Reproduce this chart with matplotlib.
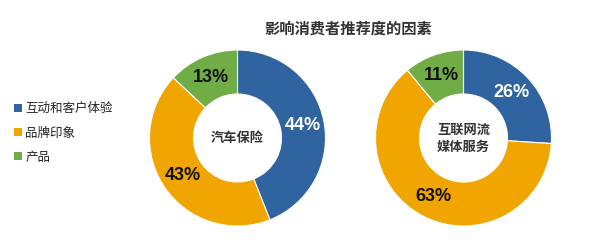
import matplotlib
matplotlib.use("Agg")
import matplotlib.pyplot as plt
from matplotlib.patches import Patch

plt.rcParams['font.family'] = ['Noto Sans CJK SC', 'DejaVu Sans']

# data
categories = ['互动和客户体验', '品牌印象', '产品']
car_insurance = [44, 43, 13]
streaming = [26, 63, 11]
center_labels = ['汽车保险', '互联网流\n媒体服务']
title = '影响消费者推荐度的因素'

colors = ['#2F64A0', '#F0A500', '#70AD47']
label_colors = ['white', '#111111', '#111111']

fig = plt.figure(figsize=(6.0, 2.47), dpi=100)

W, H = 600, 247
R = 88  # outer radius in px


def donut(cx, cy, values, center_text):
    ax = fig.add_axes([(cx - R) / W, (H - cy - R) / H, 2 * R / W, 2 * R / H])
    wedges, texts, autotexts = ax.pie(
        values, colors=colors, startangle=90, counterclock=False,
        radius=1.0, autopct=lambda p: f'{p:.0f}%', pctdistance=0.75,
        wedgeprops=dict(width=0.5, edgecolor='white', linewidth=0.8))
    for t, c in zip(autotexts, label_colors):
        t.set_color(c)
        t.set_fontsize(13)
        t.set_fontweight('bold')
        t.set_family(['Liberation Sans', 'DejaVu Sans'])
    ax.text(0, 0, center_text, ha='center', va='center', fontsize=9.5,
            fontweight='bold', color='#333333', linespacing=1.3)
    ax.set_xlim(-1, 1)
    ax.set_ylim(-1, 1)
    ax.set_aspect('equal')
    ax.axis('off')
    return wedges


donut(237.5, 138, car_insurance, center_labels[0])
donut(463.5, 138, streaming, center_labels[1])

fig.text(348 / W, 1 - 29 / H, title, ha='center', va='center',
         fontsize=11, fontweight='bold', color='#333333')

handles = [Patch(facecolor=c, edgecolor='none') for c in colors]
fig.legend(handles, categories, loc='center left',
           bbox_to_anchor=(0.005, 1 - 133 / H), frameon=False,
           fontsize=9, handlelength=0.6, handleheight=0.6,
           handletextpad=0.3, labelspacing=0.9, labelcolor='#222222')

fig.savefig('out.png', dpi=100, facecolor='white')
